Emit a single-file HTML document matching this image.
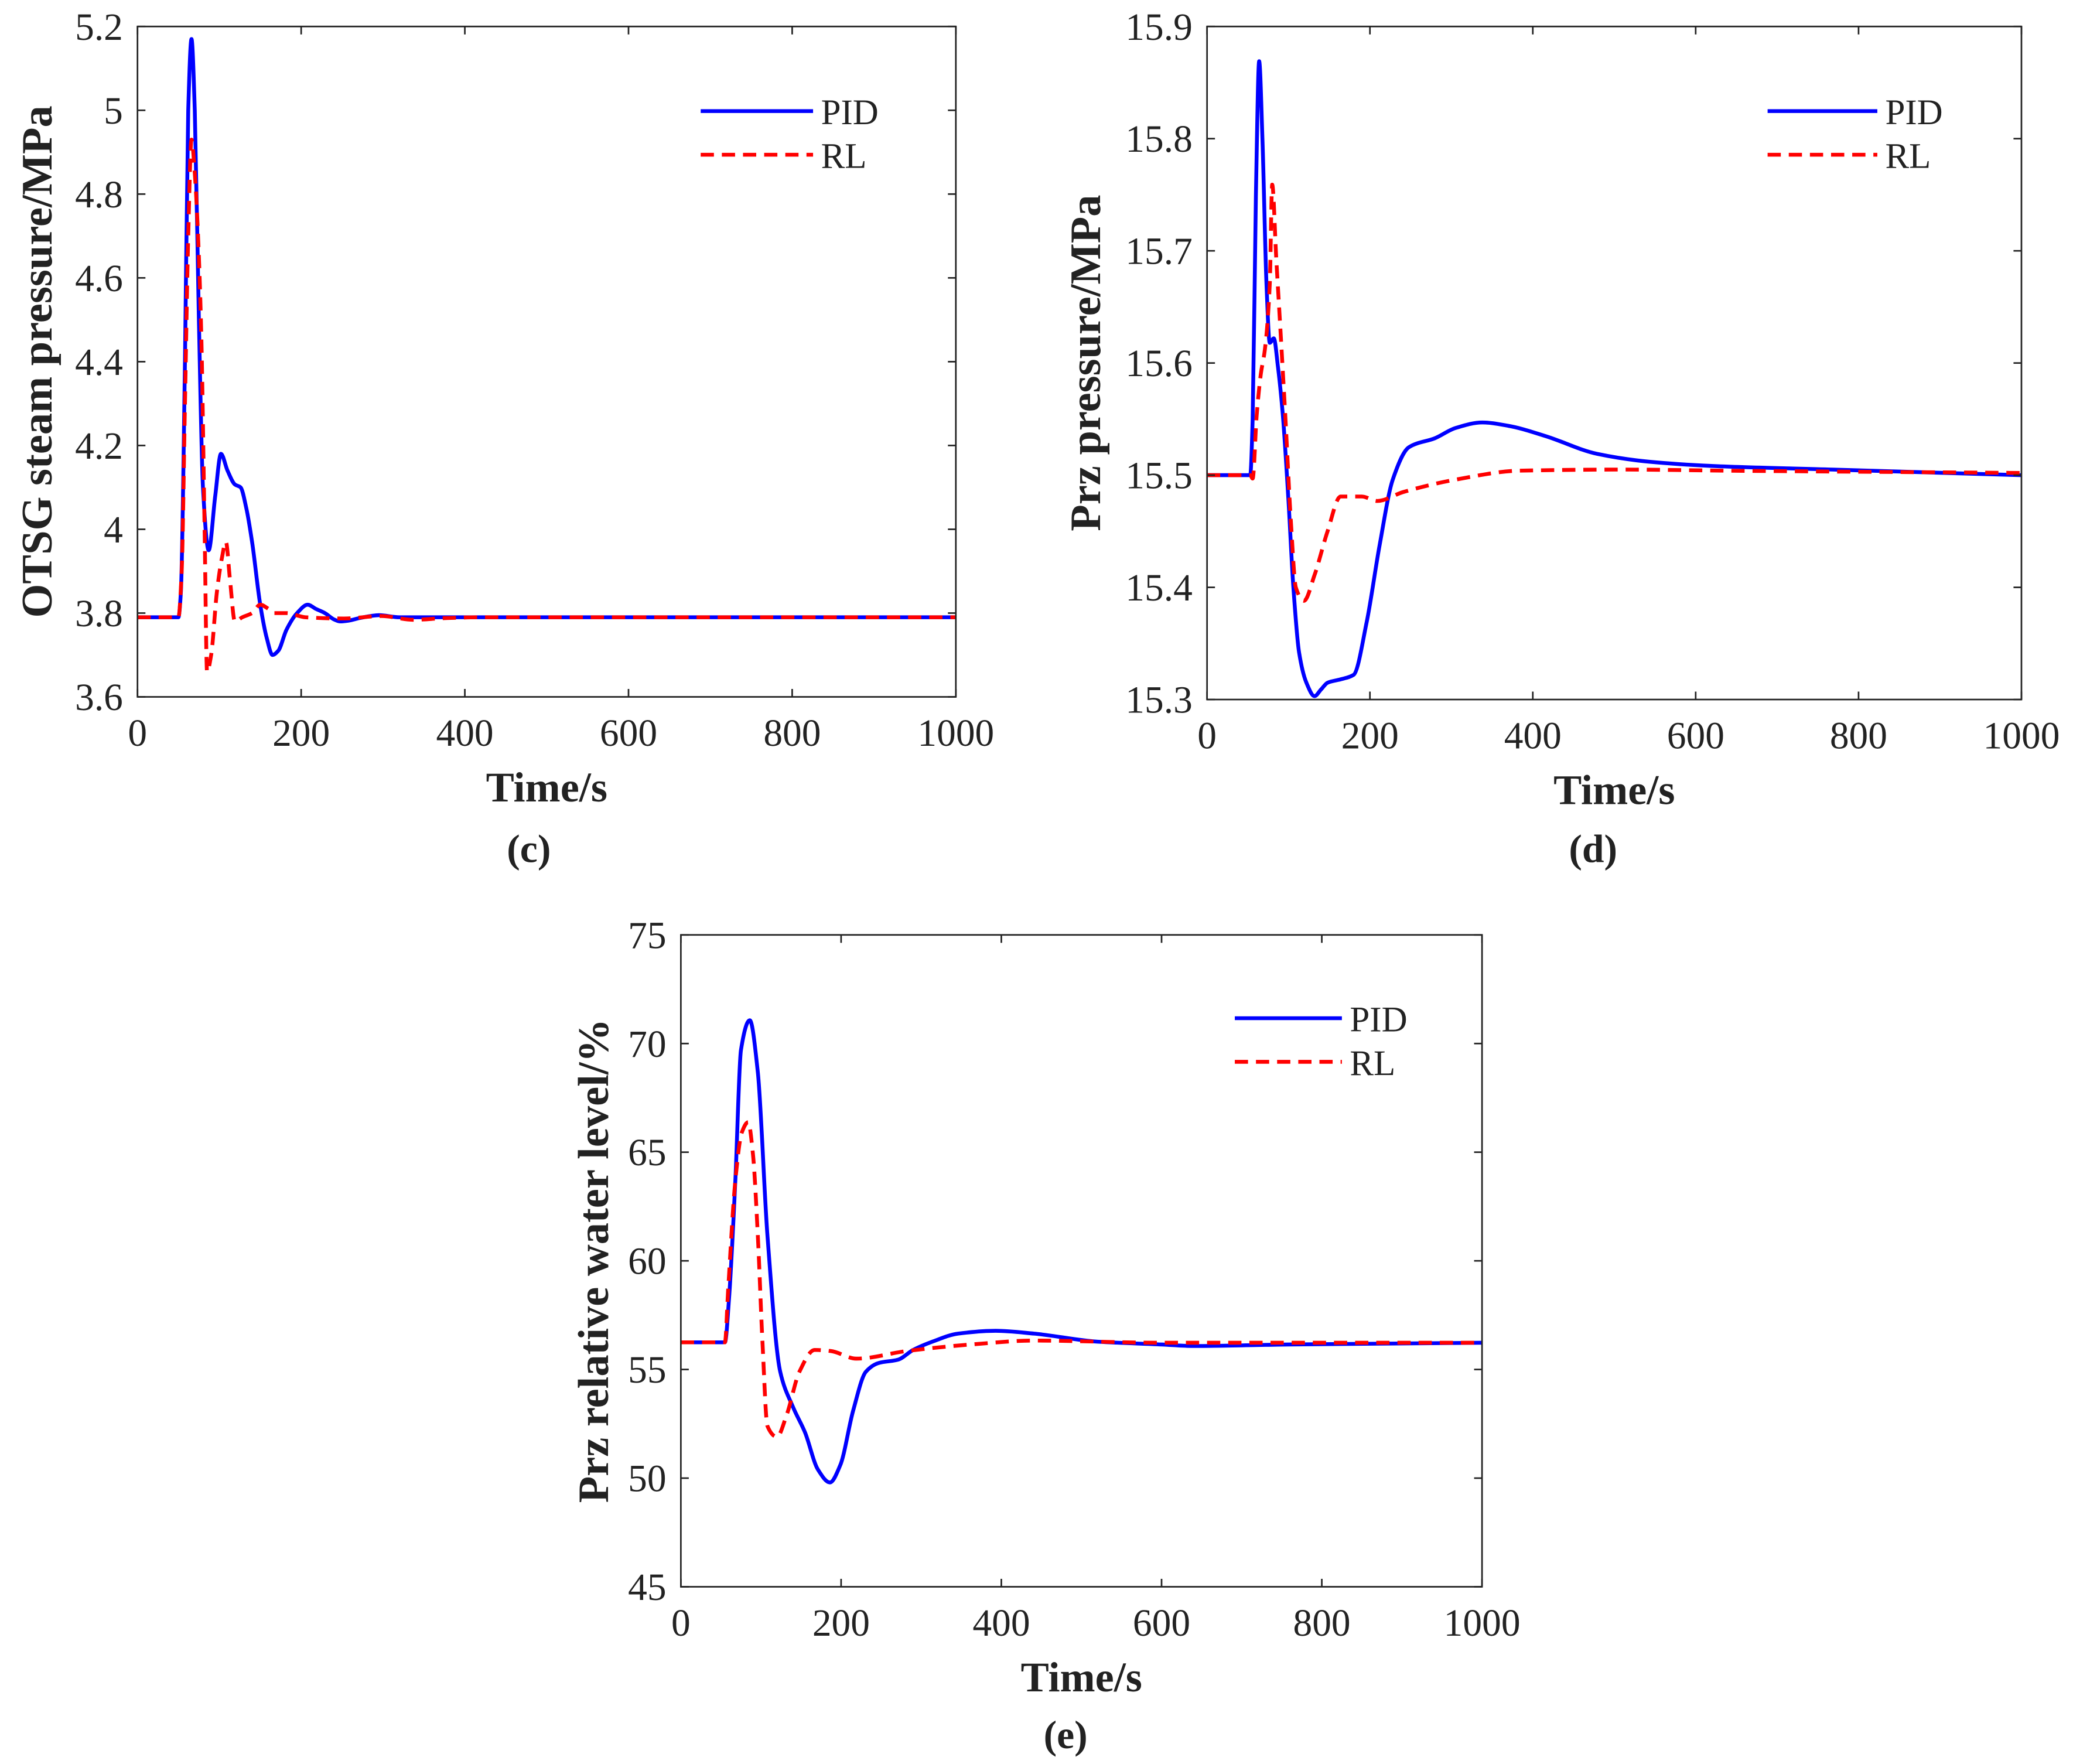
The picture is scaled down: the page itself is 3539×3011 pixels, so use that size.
<!DOCTYPE html>
<html><head><meta charset="utf-8"><style>
html,body{margin:0;padding:0;background:#fff}
svg{display:block}
text{font-family:"Liberation Serif","Times New Roman",serif;fill:#222}
</style></head><body>
<svg id="fig" width="3539" height="3011" viewBox="0 0 1568 1334" xmlns="http://www.w3.org/2000/svg">
<rect width="1568" height="1334" fill="#fff"/>
</svg>
<script>
// Panel (c) OTSG steam pressure
const cPidT = [0,50,53,58,62,66,70,75,80,87,95,102,110,119,126,133,140,150,158,165,172,182,195,208,218,229,240,248,258,271,285,295,320,1000];
const cPidV = [3.79,3.79,3.85,4.4,5.0,5.17,5.0,4.5,4.1,3.95,4.08,4.18,4.14,4.107,4.10,4.05,3.97,3.82,3.74,3.70,3.71,3.76,3.80,3.82,3.81,3.80,3.785,3.78,3.782,3.788,3.793,3.795,3.79,3.79];
const cRlT = [0,50,54,58,62,66,70,74,78,82,85,90,97,103,108,113,119,128,140,150,160,167,182,205,252,298,337,376,420,1000];
const cRlV = [3.79,3.79,3.9,4.3,4.7,4.93,4.85,4.7,4.46,4.0,3.66,3.7,3.85,3.93,3.97,3.88,3.78,3.79,3.80,3.82,3.81,3.80,3.80,3.79,3.787,3.793,3.784,3.788,3.79,3.79];
const cYTicks = [3.6,3.8,4,4.2,4.4,4.6,4.8,5,5.2];
const cYLabels = ["3.6","3.8","4","4.2","4.4","4.6","4.8","5","5.2"];
// Panel (d) Prz pressure
const dPidT = [0,53,56,60,64,68,73,77,82,87,93,100,106,113,122,132,140,148,164,180,196,212,228,248,280,305,338,370,415,479,543,627,768,1000];
const dPidV = [15.5,15.5,15.55,15.75,15.869,15.8,15.67,15.618,15.622,15.597,15.554,15.477,15.4,15.342,15.315,15.303,15.309,15.315,15.318,15.322,15.369,15.438,15.496,15.525,15.533,15.542,15.547,15.544,15.535,15.519,15.512,15.508,15.505,15.5];
const dRlT = [0,53,56,61,66,71,77,80,85,90,96,103,109,119,132,148,164,190,209,241,305,383,511,640,1000];
const dRlV = [15.5,15.5,15.497,15.554,15.59,15.612,15.67,15.759,15.693,15.631,15.554,15.458,15.4,15.388,15.411,15.45,15.481,15.481,15.477,15.485,15.496,15.504,15.505,15.504,15.502];
const dYTicks = [15.3,15.4,15.5,15.6,15.7,15.8,15.9];
const dYLabels = ["15.3","15.4","15.5","15.6","15.7","15.8","15.9"];
// Panel (e) Prz relative water level
const ePidT = [0,55,60,68,75,86,96,108,124,140,155,171,186,199,215,231,247,271,290,314,346,393,441,520,600,639,759,1000];
const ePidV = [56.25,56.25,58.2,63.7,69.7,71.07,68.7,61.2,54.9,53.27,52.1,50.4,49.8,50.6,53.1,54.9,55.3,55.45,55.9,56.28,56.65,56.78,56.65,56.28,56.15,56.08,56.15,56.23];
const eRlT = [0,55,59,68,76,84,90,96,102,108,120,132,148,167,187,219,282,362,441,600,1000];
const eRlV = [56.25,56.25,58.66,63.7,65.9,66.38,64.9,61.2,56.15,52.4,51.9,52.9,54.9,55.9,55.85,55.5,55.85,56.15,56.33,56.23,56.23];
const eYTicks = [45,50,55,60,65,70,75];
const eYLabels = ["45","50","55","60","65","70","75"];
const xTicks = [0,200,400,600,800,1000];
const xLabels = ["0","200","400","600","800","1000"];

const NS = "http://www.w3.org/2000/svg";
const svg = document.getElementById('fig');
function mk(tag, attrs, parent){
  const e = document.createElementNS(NS, tag);
  for (const k in attrs) e.setAttribute(k, attrs[k]);
  (parent||svg).appendChild(e);
  return e;
}
// monotone cubic path through pixel points
function monoPath(xs, ys){
  const n = xs.length, d = [], m = new Array(n).fill(0);
  for (let i=0;i<n-1;i++) d.push((ys[i+1]-ys[i])/(xs[i+1]-xs[i]));
  m[0]=d[0]; m[n-1]=d[n-2];
  for (let i=1;i<n-1;i++){
    if (d[i-1]*d[i] <= 0) m[i]=0;
    else { const w1=2*(xs[i+1]-xs[i])+(xs[i]-xs[i-1]), w2=(xs[i+1]-xs[i])+2*(xs[i]-xs[i-1]);
      m[i]=(w1+w2)/(w1/d[i-1]+w2/d[i]); }
  }
  let p = 'M'+xs[0].toFixed(2)+','+ys[0].toFixed(2);
  for (let i=0;i<n-1;i++){
    const h=(xs[i+1]-xs[i])/3;
    p += 'C'+(xs[i]+h).toFixed(2)+','+(ys[i]+m[i]*h).toFixed(2)+' '+(xs[i+1]-h).toFixed(2)+','+(ys[i+1]-m[i+1]*h).toFixed(2)+' '+xs[i+1].toFixed(2)+','+ys[i+1].toFixed(2);
  }
  return p;
}
function panel(p){
  const g = mk('g', {});
  
  
  const L=p.box[0], R=p.box[1], T=p.box[2], B=p.box[3];
  const sx = t => L + (t - 0) / 1000 * (R - L);
  const sy = v => B - (v - p.ymin) / (p.ymax - p.ymin) * (B - T);
  function series(ts, vs, color, dash, nm){
    const path = mk('path', {d:monoPath(ts.map(sx), vs.map(sy)), fill:'none', stroke:color, 'stroke-width':2.9, 'stroke-linejoin':'round'}, g);
    if (dash) path.setAttribute('stroke-dasharray', dash);
    
    
  }
  series(p.pidT, p.pidV, '#0000ff', null, 'pid-line');
  series(p.rlT, p.rlV, '#ff0000', '10,6', 'rl-line');
  const box = mk('rect', {x:L, y:T, width:R-L, height:B-T, fill:'none', stroke:'#222', 'stroke-width':1.2}, g);
  
  
  for (let i=0;i<xTicks.length;i++){
    const x = sx(xTicks[i]);
    mk('line', {x1:x, x2:x, y1:B, y2:B-6, stroke:'#222', 'stroke-width':1.2}, g);
    mk('line', {x1:x, x2:x, y1:T, y2:T+6, stroke:'#222', 'stroke-width':1.2}, g);
    const tx = mk('text', {x:x, y:B+37, 'text-anchor':'middle', 'font-size':29}, g);
    tx.textContent = xLabels[i];
    
    
  }
  for (let i=0;i<p.yTicks.length;i++){
    const y = sy(p.yTicks[i]);
    mk('line', {x1:L, x2:L+6, y1:y, y2:y, stroke:'#222', 'stroke-width':1.2}, g);
    mk('line', {x1:R, x2:R-6, y1:y, y2:y, stroke:'#222', 'stroke-width':1.2}, g);
    const ty = mk('text', {x:L-11, y:y+10, 'text-anchor':'end', 'font-size':29}, g);
    ty.textContent = p.yLabels[i];
    
    
  }
  const xt = mk('text', {x:(L+R)/2, y:B+79, 'text-anchor':'middle', 'font-size':32, 'font-weight':'bold'}, g);
  xt.textContent = 'Time/s';
  
  
  const yt = mk('text', {x:0, y:0, 'text-anchor':'middle', 'font-size':33, 'font-weight':'bold', transform:'translate('+p.ytx+','+((T+B)/2)+') rotate(-90)'}, g);
  yt.textContent = p.ytitle;
  
  
  const cap = mk('text', {x:p.cap[0], y:p.cap[1], 'text-anchor':'middle', 'font-size':30, 'font-weight':'bold'}, g);
  cap.textContent = p.capText;
  
  
  const lg = mk('g', {}, g);
  
  
  mk('line', {x1:p.leg[0], x2:p.leg[1], y1:p.leg[2], y2:p.leg[2], stroke:'#0000ff', 'stroke-width':2.9}, lg);
  mk('line', {x1:p.leg[0], x2:p.leg[1], y1:p.leg[2]+33, y2:p.leg[2]+33, stroke:'#ff0000', 'stroke-width':2.9, 'stroke-dasharray':'10,6'}, lg);
  const l1 = mk('text', {x:p.leg[1]+6, y:p.leg[2]+10, 'font-size':27}, lg);
  l1.textContent = 'PID';
  
  
  const l2 = mk('text', {x:p.leg[1]+6, y:p.leg[2]+43, 'font-size':27}, lg);
  l2.textContent = 'RL';
  
  
}
panel({name:'panel-c', box:[104,723,20,527], ymin:3.6, ymax:5.2, yTicks:cYTicks, yLabels:cYLabels,
  pidT:cPidT, pidV:cPidV, rlT:cRlT, rlV:cRlV, ytitle:'OTSG steam pressure/MPa', ytx:39,
  cap:[400,652], capText:'(c)', leg:[530,615,84]});
panel({name:'panel-d', box:[913,1529,20,529], ymin:15.3, ymax:15.9, yTicks:dYTicks, yLabels:dYLabels,
  pidT:dPidT, pidV:dPidV, rlT:dRlT, rlV:dRlV, ytitle:'Prz pressure/MPa', ytx:832,
  cap:[1205,652], capText:'(d)', leg:[1337,1420,84]});
panel({name:'panel-e', box:[515,1121,707,1200], ymin:45, ymax:75, yTicks:eYTicks, yLabels:eYLabels,
  pidT:ePidT, pidV:ePidV, rlT:eRlT, rlV:eRlV, ytitle:'Prz relative water level/%', ytx:460,
  cap:[806,1322], capText:'(e)', leg:[934,1015,770]});
</script>
</body></html>
